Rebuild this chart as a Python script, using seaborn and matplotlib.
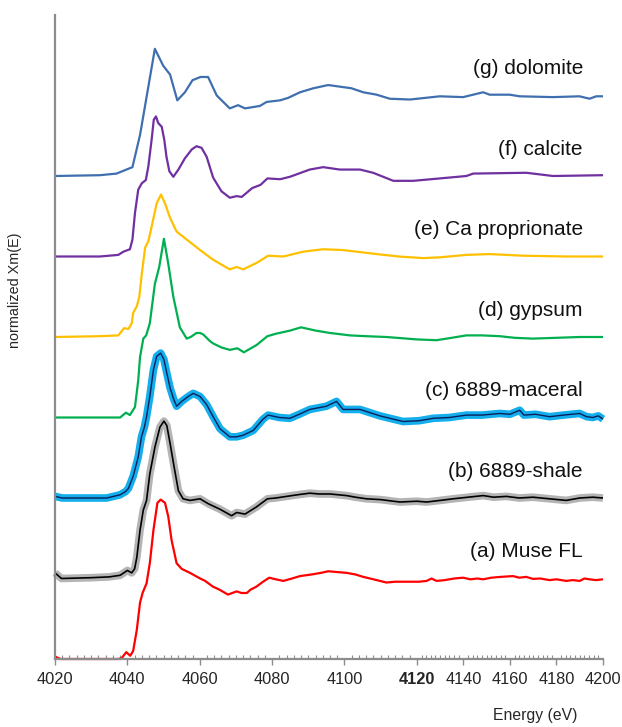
import numpy as np
import pandas as pd
import matplotlib
matplotlib.use("Agg")
import matplotlib.pyplot as plt
import seaborn as sns

# ---------------- data (normalized Xm(E)) ----------------
energy_a = [4020, 4021.5, 4030, 4037.4, 4038.4, 4039.7, 4040.8, 4041.6, 4042.6, 4043.5, 4044.2, 4045.3,
            4046.2, 4047.2, 4048.3, 4049.2, 4050.4, 4051.3, 4052.2, 4053.6, 4055.0, 4057.3, 4060.1,
            4061.5, 4063.6, 4065.5, 4067.8, 4069, 4070.2, 4071.5, 4073.0, 4074, 4075.7, 4077.5, 4079.2,
            4081, 4083.1, 4085.5, 4087.7, 4090.9, 4093.5, 4095.5, 4098, 4100.6, 4103, 4105.2, 4108,
            4111.6, 4114, 4117.2, 4121, 4124.2, 4126.3, 4128.5, 4132, 4136, 4139.9, 4143, 4146, 4148.5,
            4152, 4156, 4161.3, 4164, 4167, 4169.9, 4173, 4177, 4180, 4184.2, 4187, 4190, 4192, 4194.2,
            4197, 4200]
mu_a = [0.03, 0.0, 0.0, 0.0, 0.01, 0.085, 0.04, 0.10, 0.36, 0.70, 0.82, 0.94,
        1.19, 1.60, 1.94, 1.98, 1.94, 1.77, 1.48, 1.19, 1.12, 1.07, 1.00,
        0.97, 0.90, 0.86, 0.80, 0.82, 0.84, 0.82, 0.82, 0.86, 0.90, 0.96, 1.01,
        0.99, 0.97, 1.00, 1.03, 1.05, 1.07, 1.09, 1.08, 1.07, 1.05, 1.02, 0.99,
        0.95, 0.96, 0.96, 0.96, 0.97, 1.00, 0.97, 0.98, 1.00, 1.01, 0.99, 1.00, 0.99,
        1.01, 1.02, 1.03, 1.01, 1.02, 0.995, 1.00, 0.98, 0.99, 0.97, 0.98, 0.97, 1.00, 0.99,
        0.98, 0.99]

energy_b = [4020, 4021.8, 4030, 4035, 4038, 4040.0, 4041.2, 4042.0, 4042.6, 4043.5, 4044.4, 4045.3,
            4046.2, 4047.6, 4049.0, 4050.1, 4050.9, 4051.8, 4052.9, 4054.1, 4055.4, 4057.3, 4060.1,
            4062.3, 4065.6, 4068.8, 4070.2, 4072.5, 4075.7, 4078.7, 4081, 4084, 4087, 4090.4, 4093,
            4096, 4100.6, 4103, 4106.1, 4110, 4115.3, 4120, 4124.2, 4130, 4135.6, 4142, 4148.5, 4153,
            4158.5, 4164, 4169.9, 4177, 4184.2, 4190, 4195.6, 4200]
mu_b = [0.07, 0.0, 0.01, 0.02, 0.04, 0.10, 0.07, 0.12, 0.26, 0.60, 0.85, 0.97,
        1.30, 1.63, 1.88, 1.955, 1.90, 1.68, 1.39, 1.09, 0.99, 0.97, 0.99,
        0.93, 0.86, 0.78, 0.82, 0.80, 0.89, 0.99, 1.00, 1.02, 1.04, 1.06, 1.05,
        1.05, 1.03, 1.01, 0.99, 0.98, 0.95, 0.96, 0.95, 0.97, 0.99, 1.01, 1.03, 1.01,
        1.02, 1.00, 1.01, 0.99, 0.97, 1.00, 1.01, 1.00]

energy_c = [4020, 4022, 4034.3, 4038, 4039.5, 4040.3, 4041.6, 4043.0, 4043.9, 4044.7, 4045.3, 4046.2,
            4047.2, 4048.1, 4049.2, 4050.1, 4050.9, 4051.8, 4052.7, 4053.6, 4055.0, 4056.8, 4058.2,
            4060.1, 4061.9, 4063.7, 4065.6, 4068.3, 4070.2, 4072.0, 4074.8, 4077.5, 4078.9, 4082,
            4084.9, 4087.5, 4090.4, 4095.0, 4097.8, 4099.6, 4104.3, 4109.8, 4116.2, 4121, 4127, 4134,
            4141.3, 4148, 4155.6, 4160, 4164.2, 4166, 4171, 4177, 4183, 4189.9, 4193, 4195.6, 4198, 4200]
mu_c = [0.02, 0.0, 0.0, 0.04, 0.08, 0.12, 0.27, 0.51, 0.76, 0.88, 1.01, 1.26,
        1.59, 1.76, 1.80, 1.72, 1.55, 1.37, 1.24, 1.14, 1.20, 1.26, 1.30,
        1.26, 1.16, 1.01, 0.86, 0.76, 0.76, 0.78, 0.84, 0.98, 1.03, 1.00,
        0.99, 1.04, 1.10, 1.14, 1.20, 1.10, 1.10, 1.02, 0.95, 0.96, 0.99, 1.00,
        1.03, 1.03, 1.05, 1.04, 1.09, 1.03, 1.04, 1.01, 1.03, 1.05, 1.01, 1.00, 1.02, 0.98]

energy_d = [4020, 4038, 4039.6, 4040.7, 4042.1, 4043.0, 4043.5, 4044.4, 4045.2, 4046.2, 4047.6, 4048.8,
            4050.1, 4051.3, 4052.7, 4054.5, 4056.4, 4057.5, 4059.1, 4060.1, 4061.0, 4062.8, 4063.7,
            4066, 4068.3, 4070.4, 4072.2, 4075.7, 4078.7, 4081, 4085, 4088, 4092, 4096, 4101.5, 4106,
            4111.6, 4120, 4128.5, 4135, 4141.3, 4148, 4155.6, 4162, 4169.9, 4180, 4190, 4200]
mu_d = [0.0, 0.0, 0.06, 0.03, 0.13, 0.46, 0.75, 0.98, 1.02, 1.17, 1.66, 1.87,
        2.22, 1.91, 1.50, 1.12, 0.98, 1.00, 1.05, 1.05, 1.03, 0.95, 0.92,
        0.87, 0.84, 0.86, 0.81, 0.90, 1.01, 1.04, 1.08, 1.12, 1.08, 1.05, 1.02, 1.01,
        1.00, 0.97, 0.96, 0.99, 1.02, 1.02, 1.01, 0.99, 0.98, 0.99, 1.00, 1.00]

energy_e = [4020, 4032.4, 4037.5, 4039.1, 4040.3, 4041.2, 4041.6, 4042.6, 4043.3, 4044.0, 4044.9, 4045.8,
            4046.7, 4048.1, 4049.3, 4050.4, 4051.8, 4053.6, 4056.4, 4060.1, 4063.7, 4068.3, 4070.2,
            4072.0, 4075.7, 4078.9, 4083.1, 4088.6, 4094.1, 4099.6, 4108.9, 4115, 4122.7, 4130,
            4141.3, 4151.3, 4165.6, 4184.2, 4200]
mu_e = [0.0, 0.01, 0.02, 0.11, 0.10, 0.17, 0.30, 0.38, 0.50, 0.79, 1.11, 1.19,
        1.37, 1.66, 1.77, 1.66, 1.48, 1.31, 1.21, 1.08, 0.96, 0.84, 0.87,
        0.84, 0.92, 1.01, 1.00, 1.06, 1.09, 1.08, 1.03, 1.00, 0.98, 0.99,
        1.02, 1.03, 1.01, 1.00, 1.00]

energy_f = [4020, 4032.4, 4037.5, 4038.9, 4040.7, 4041.4, 4042.1, 4043.0, 4044.0, 4045.1, 4045.8, 4046.7,
            4047.3, 4047.9, 4048.5, 4049.5, 4050.2, 4050.8, 4051.6, 4052.7, 4054.1, 4055.9, 4057.8,
            4059.1, 4060.5, 4061.9, 4063.7, 4066.0, 4068.3, 4070.2, 4071.6, 4074.5, 4076.8, 4078.7,
            4082.2, 4084.9, 4090.4, 4094.1, 4098.7, 4104.3, 4107.9, 4113.5, 4119, 4129.9, 4141.3,
            4144.2, 4167.1, 4178.5, 4200]
mu_f = [0.0, 0.0, 0.02, 0.06, 0.09, 0.21, 0.54, 0.83, 0.91, 0.95, 1.12, 1.45,
        1.70, 1.74, 1.66, 1.61, 1.45, 1.24, 1.06, 0.99, 1.08, 1.22, 1.33,
        1.37, 1.35, 1.24, 0.98, 0.81, 0.73, 0.75, 0.74, 0.85, 0.89, 0.97,
        0.96, 0.99, 1.08, 1.11, 1.08, 1.08, 1.04, 0.94, 0.94, 0.97, 1.00,
        1.03, 1.04, 1.00, 1.01]

energy_g = [4020, 4032.4, 4037, 4041.4, 4043.5, 4047.6, 4049.9, 4051.8, 4053.8, 4055.9, 4058.0, 4060.2,
            4062.3, 4064.7, 4068.3, 4070.6, 4072.5, 4076.6, 4078.5, 4082.2, 4084.4, 4087.7, 4091.4,
            4095.5, 4101.9, 4105.2, 4108.9, 4112.5, 4118.1, 4129.9, 4139.9, 4145.6, 4148.5, 4151.3,
            4159.9, 4164.2, 4178.5, 4189.9, 4194.2, 4197.1, 4200]
mu_g = [0.0, 0.01, 0.03, 0.11, 0.51, 1.58, 1.37, 1.26, 0.94, 1.04, 1.19, 1.23,
        1.23, 1.00, 0.84, 0.88, 0.84, 0.87, 0.92, 0.94, 0.97, 1.04, 1.09,
        1.13, 1.09, 1.04, 1.01, 0.96, 0.95, 0.99, 0.98, 1.02, 1.04, 1.01,
        1.01, 0.99, 0.98, 0.99, 0.96, 0.99, 0.99]

labels = ["(a) Muse FL", "(b) 6889-shale", "(c) 6889-maceral", "(d) gypsum",
          "(e) Ca proprionate", "(f) calcite", "(g) dolomite"]
offsets = [0, 1, 2, 3, 4, 5, 6]
major_ticks = [4020, 4040, 4060, 4080, 4100, 4120, 4140, 4160, 4180, 4200]

# ---------------- styling ----------------
sns.set_theme(style="white")
plt.rcParams["font.family"] = ["Liberation Sans", "DejaVu Sans"]

BREAK, K = 4120.0, 0.643


def fwd(x):
    x = np.asarray(x, dtype=float)
    return np.where(x <= BREAK, x, BREAK + (x - BREAK) * K)


def inv(y):
    y = np.asarray(y, dtype=float)
    return np.where(y <= BREAK, y, BREAK + (y - BREAK) / K)


fig = plt.figure(figsize=(6.22, 7.27), dpi=100)
ax = fig.add_axes([55 / 622, 1 - 659 / 727, 548 / 622, 644 / 727])
ax.set_xscale("function", functions=(fwd, inv))


def frame(E, mu, off):
    return pd.DataFrame({"E": E, "y": np.asarray(mu) + off})


series = [
    (energy_a, mu_a, [("#FF0000", 1.6)]),
    (energy_b, mu_b, [("#B4B4B4", 5.5), ("#000000", 1.2)]),
    (energy_c, mu_c, [("#13AEEB", 5.5), ("#0A1F5C", 1.0)]),
    (energy_d, mu_d, [("#00B050", 1.6)]),
    (energy_e, mu_e, [("#FFC000", 1.6)]),
    (energy_f, mu_f, [("#7030A0", 1.6)]),
    (energy_g, mu_g, [("#3F6FAE", 1.6)]),
]

for (E, mu, styles), off in zip(series, offsets):
    df = frame(E, mu, off)
    for col, lw in styles:
        sns.lineplot(data=df, x="E", y="y", ax=ax, color=col, linewidth=lw,
                     estimator=None, sort=False, legend=False, clip_on=False,
                     solid_joinstyle="round", solid_capstyle="butt")

for lab, off in zip(labels, offsets):
    ax.text(0.9635, off + 1.33, lab, transform=ax.get_yaxis_transform(),
            ha="right", va="center", fontsize=15, color="#111111")

ax.set_xlim(4020, 4200)
ax.set_ylim(0, 8.0)
ax.set_xticks(major_ticks)
ax.set_xticks(np.arange(4020, 4201, 2), minor=True)
ax.set_xticklabels([str(t) for t in major_ticks])
for t in ax.get_xticklabels():
    if t.get_text() == "4120":
        t.set_fontweight("bold")
ax.set_yticks([])
ax.tick_params(axis="x", which="major", direction="out", length=4, width=1.0,
               color="#8C8C8C", labelsize=11.8, pad=5, bottom=True)
ax.tick_params(axis="x", which="minor", direction="in", length=3, width=0.8,
               color="#8C8C8C", bottom=True)

for s in ["top", "right"]:
    ax.spines[s].set_visible(False)
for s in ["left", "bottom"]:
    ax.spines[s].set_color("#8C8C8C")
    ax.spines[s].set_linewidth(1.6)

ax.set_xlabel("Energy (eV)", fontsize=11.3)
ax.xaxis.set_label_coords((535.5 - 55) / 548, -(708 - 659) / 644)
ax.set_ylabel("normalized Xm(E)", fontsize=10.4)
ax.yaxis.set_label_coords(-(55 - 21.7) / 548, (659 - 290) / 644)

fig.savefig("out.png", dpi=100)
